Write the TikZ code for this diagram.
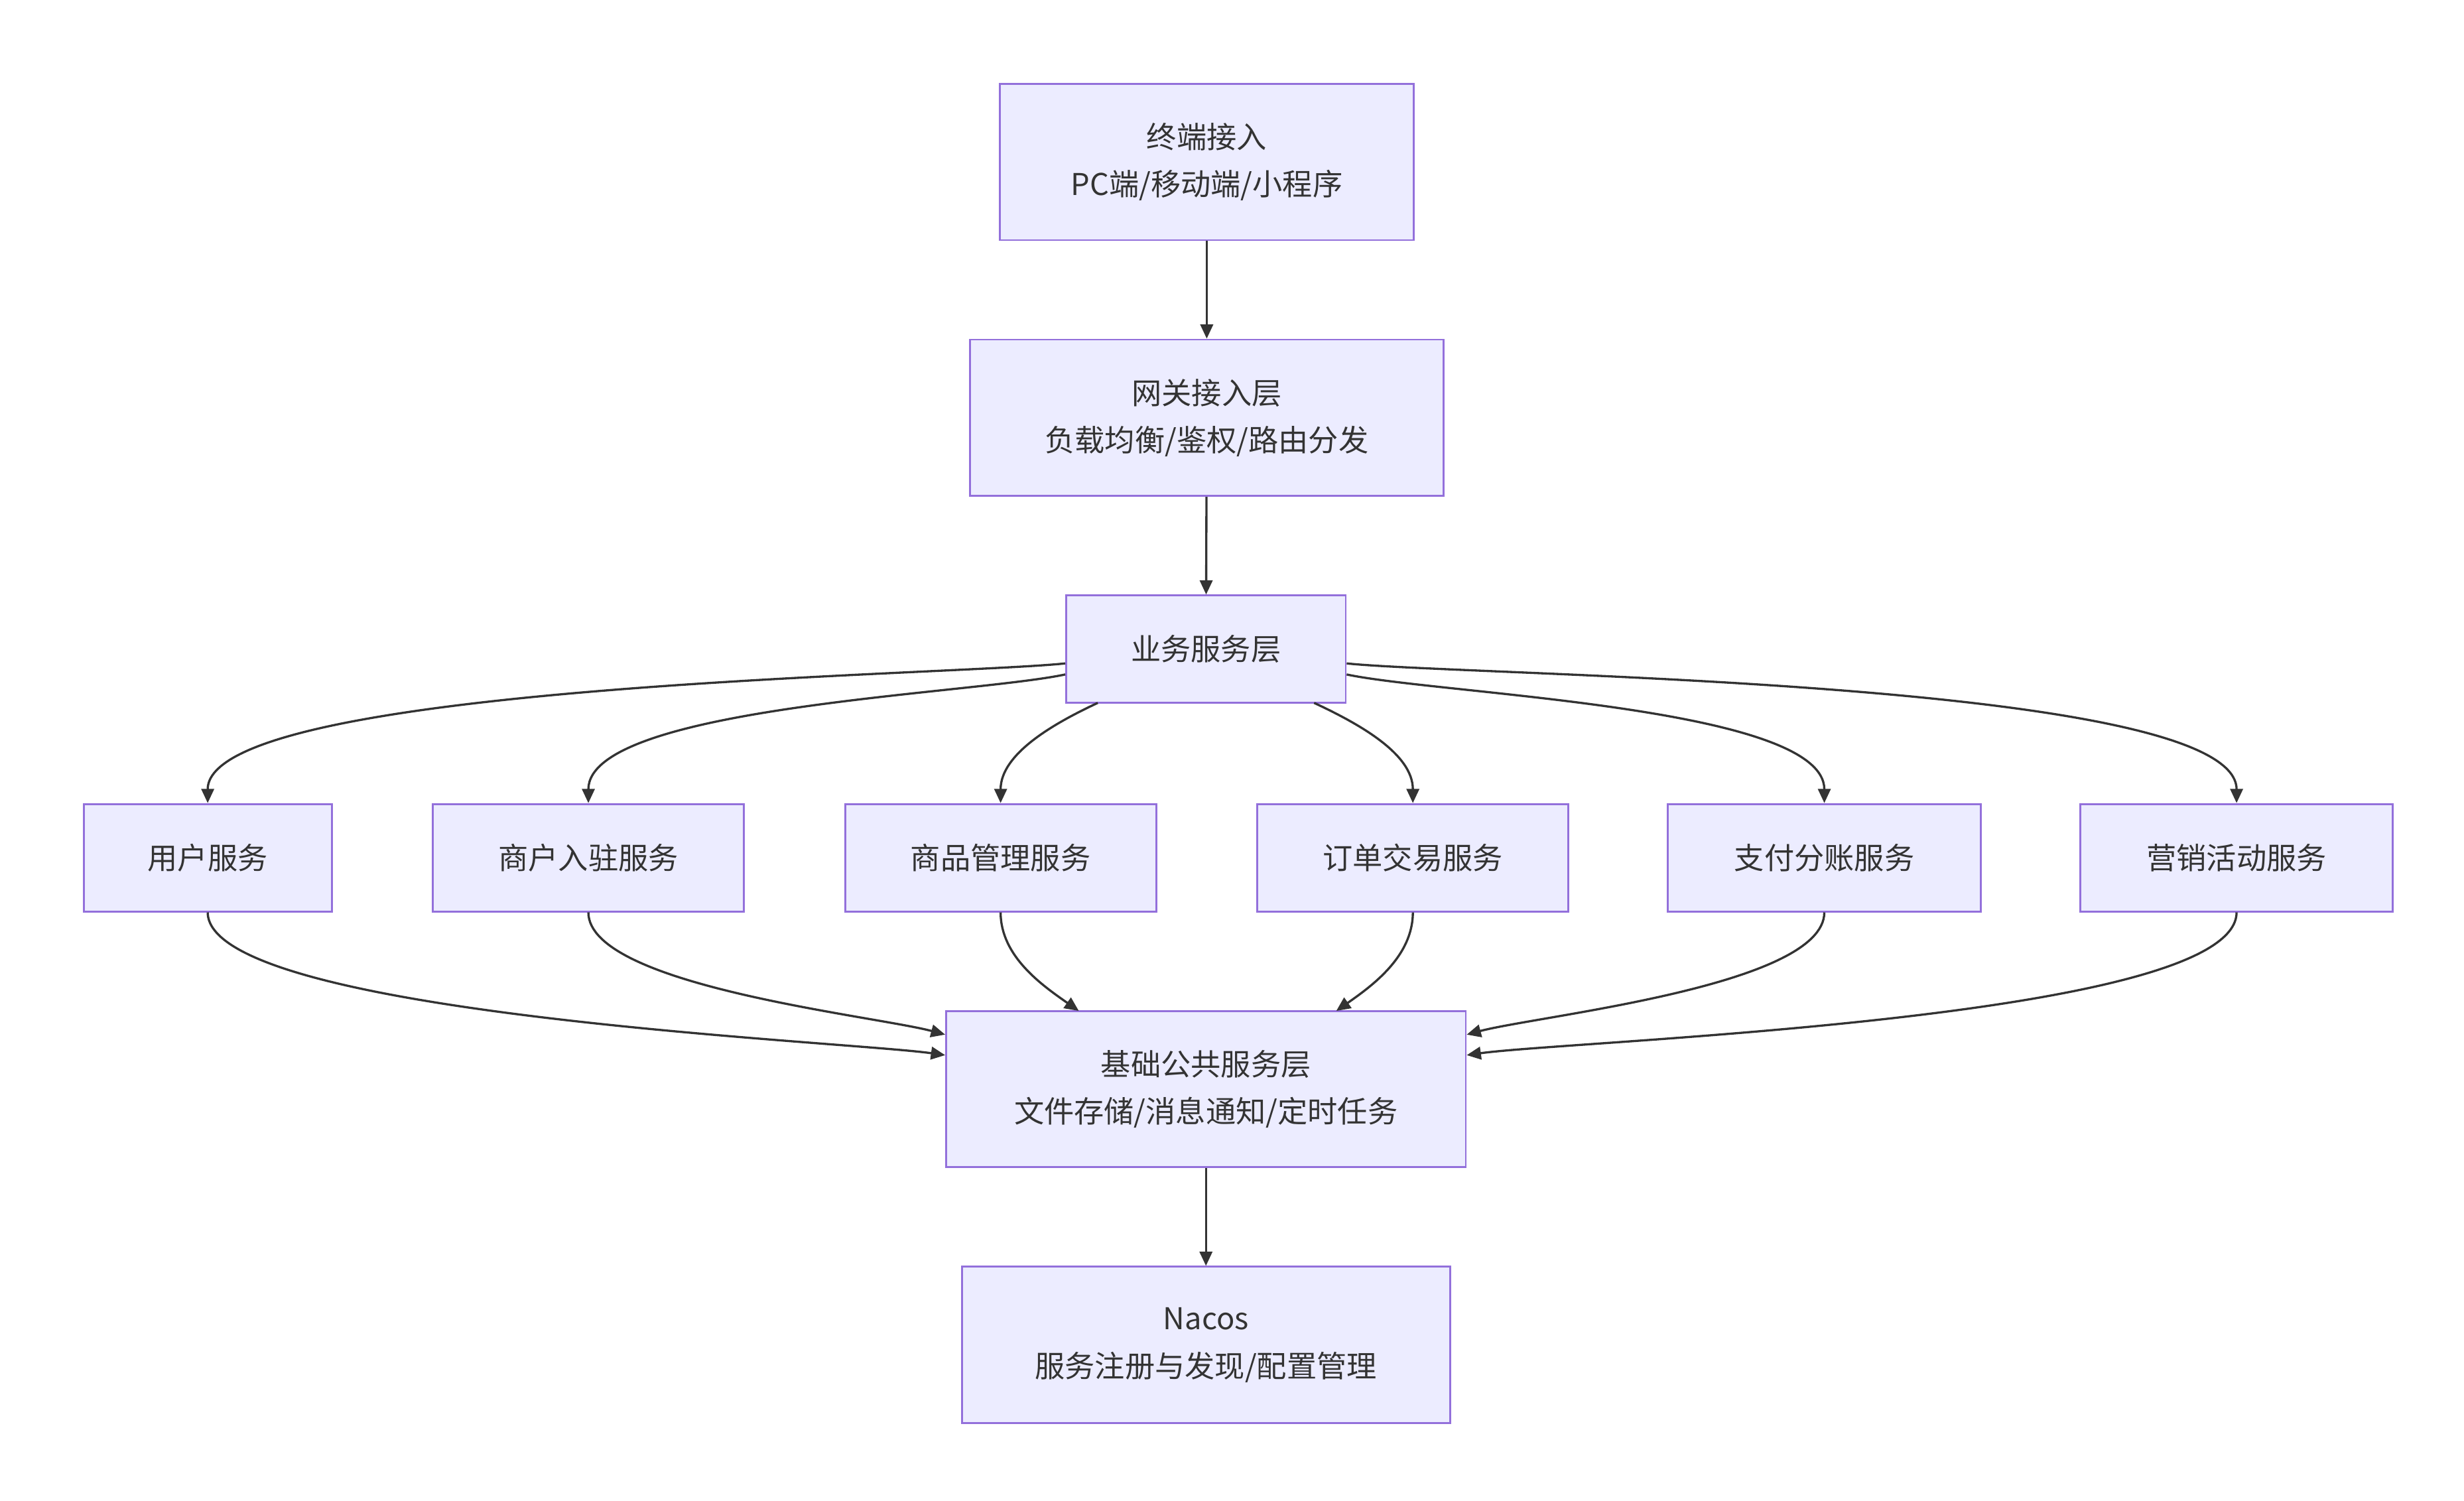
\documentclass[tikz,border=0pt]{standalone}
\usepackage{fontspec}
\setmainfont{Noto Sans CJK SC}
\usetikzlibrary{arrows.meta,positioning}
\definecolor{boxfill}{HTML}{ECECFF}
\definecolor{boxline}{HTML}{9370DB}
\definecolor{arrowc}{HTML}{333333}
\tikzset{
  layer/.style={draw=boxline,fill=boxfill,line width=1.2pt,align=center,
    font=\fontsize{19}{30}\selectfont,text=arrowc},
  link/.style={draw=arrowc,line width=1.4pt,-{Triangle[length=9pt,width=8pt]}}
}
\begin{document}
\begin{tikzpicture}[x=1pt,y=-1pt]
  \useasboundingbox (0,0) rectangle (1560,950);
  \node[layer,minimum width=262,minimum height=99](term)at(764,102.5){终端接入\\PC端/移动端/小程序};
  \node[layer,minimum width=300,minimum height=99](gate)at(764,264.5){网关接入层\\负载均衡/鉴权/路由分发};
  \node[layer,minimum width=177,minimum height=68](biz)at(763.5,411){业务服务层};
  \node[layer,minimum width=157,minimum height=68](s1)at(131.5,543){用户服务};
  \node[layer,minimum width=197,minimum height=68](s2)at(372.5,543){商户入驻服务};
  \node[layer,minimum width=197,minimum height=68](s3)at(633.5,543){商品管理服务};
  \node[layer,minimum width=197,minimum height=68](s4)at(894.5,543){订单交易服务};
  \node[layer,minimum width=198,minimum height=68](s5)at(1155,543){支付分账服务};
  \node[layer,minimum width=198,minimum height=68](s6)at(1416,543){营销活动服务};
  \node[layer,minimum width=329,minimum height=99](base)at(763.5,689.5){基础公共服务层\\文件存储/消息通知/定时任务};
  \node[layer,minimum width=309,minimum height=99](nacos)at(763.5,851.5){Nacos\\服务注册与发现/配置管理};
  % vertical chain
  \draw[link](term)--(gate);
  \draw[link](gate)--(biz);
  \draw[link](base)--(nacos);
  % business layer to services
  \draw[link](biz.west|-0,420) to[out=186,in=90,looseness=0.35] (s1.north);
  \draw[link](biz.west|-0,427) to[out=192,in=90,looseness=0.5] (s2.north);
  \draw[link](695,445) to[out=205,in=90,looseness=0.9] (s3.north);
  \draw[link](832,445) to[out=-25,in=90,looseness=0.9] (s4.north);
  \draw[link](biz.east|-0,427) to[out=-12,in=90,looseness=0.5] (s5.north);
  \draw[link](biz.east|-0,420) to[out=-6,in=90,looseness=0.35] (s6.north);
  % services to base layer
  \draw[link](s1.south) to[out=-90,in=172,looseness=0.35] (base.west|-0,668);
  \draw[link](s2.south) to[out=-90,in=165,looseness=0.5] (base.west|-0,655);
  \draw[link](s3.south) to[out=-90,in=145,looseness=0.9] (683,640);
  \draw[link](s4.south) to[out=-90,in=35,looseness=0.9] (846,640);
  \draw[link](s5.south) to[out=-90,in=15,looseness=0.5] (base.east|-0,655);
  \draw[link](s6.south) to[out=-90,in=8,looseness=0.35] (base.east|-0,668);
\end{tikzpicture}
\end{document}
